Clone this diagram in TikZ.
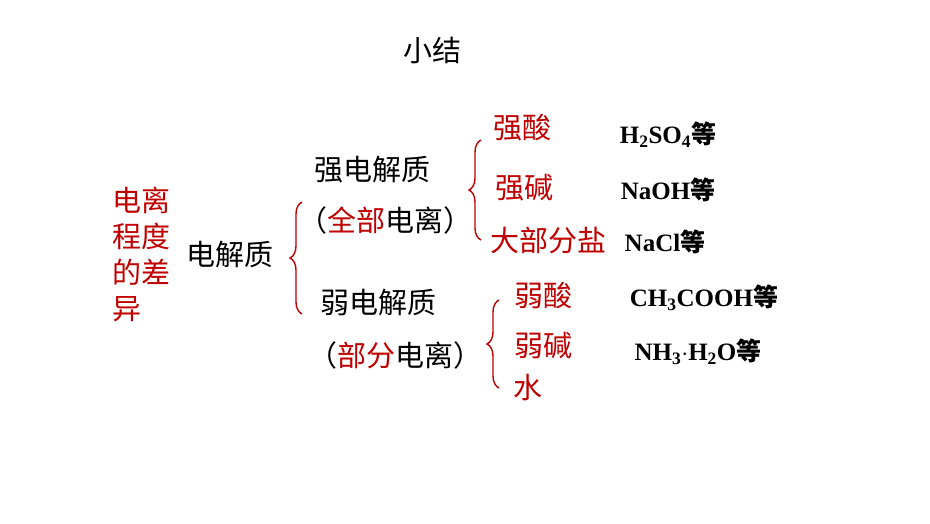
\documentclass[tikz,border=0pt]{standalone}
\usepackage{fontspec}
\setmainfont{Liberation Serif}
\newfontfamily\cjk{Noto Sans CJK SC}
\usetikzlibrary{decorations.pathreplacing}
\definecolor{dred}{RGB}{192,0,0}
\tikzset{cn/.style={font=\cjk\fontsize{29}{34}\selectfont,inner sep=0pt},
 rd/.style={cn,text=dred},
 fm/.style={font=\bfseries\fontsize{25}{28}\selectfont,inner sep=0pt},
 br/.style={draw=dred,line width=1.4pt,decoration={brace,amplitude=12pt,mirror},decorate}}
\begin{document}
\begin{tikzpicture}[x=1pt,y=-1pt]
\useasboundingbox (0,0) rectangle (930,523);
\node[cn] (t) at (432,50) {小结};
\node[rd,align=left,font=\cjk\fontsize{29}{36}\selectfont] (lft) at (141,254) {电离\\程度\\的差\\异};
\node[cn] (e) at (230,255) {电解质};
\coordinate (b1t) at (302,202); \coordinate (b1b) at (302,314);
\draw[br] (b1t) -- (b1b);
\node[cn] (s) at (372,170) {强电解质};
\node[cn] (sq) at (385,220) {（\textcolor{dred}{全部}电离）};
\node[cn] (w) at (378,303) {弱电解质};
\node[cn] (wq) at (395,355) {（\textcolor{dred}{部分}电离）};
\coordinate (b2t) at (481,140); \coordinate (b2b) at (481,240);
\draw[br] (b2t) -- (b2b);
\coordinate (b3t) at (499,300); \coordinate (b3b) at (499,388);
\draw[br] (b3t) -- (b3b);
\node[rd] (a1) at (522,128) {强酸};
\node[rd] (a2) at (524,188) {强碱};
\node[rd] (a3) at (548,240) {大部分盐};
\node[rd] (c1) at (543,296) {弱酸};
\node[rd] (c2) at (543,346) {弱碱};
\node[rd] (c3) at (528,388) {水};
\node[fm] (f1) at (668,135) {H$_\mathbf{2}$SO$_\mathbf{4}${\cjk 等}};
\node[fm] (f2) at (668,190) {NaOH{\cjk 等}};
\node[fm] (f3) at (665,242) {NaCl{\cjk 等}};
\node[fm] (f4) at (704,298) {CH$_\mathbf{3}$COOH{\cjk 等}};
\node[fm] (f5) at (698,352) {NH$_\mathbf{3}$$\cdot$H$_\mathbf{2}$O{\cjk 等}};
\end{tikzpicture}
\end{document}
